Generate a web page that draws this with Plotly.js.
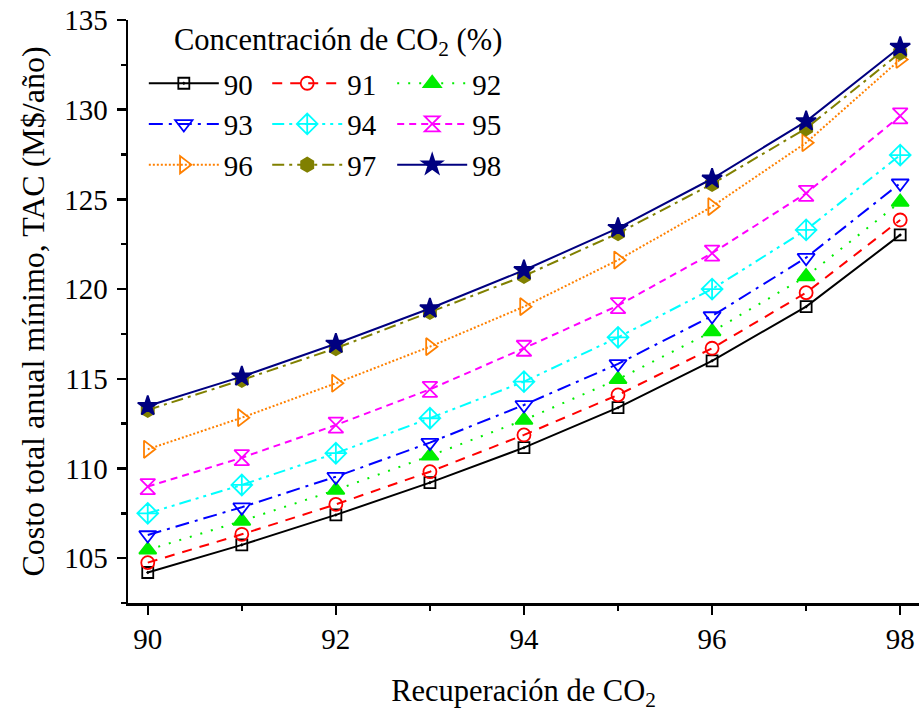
<!DOCTYPE html>
<html>
<head>
<meta charset="utf-8">
<script src="https://cdn.plot.ly/plotly-3.0.1.min.js"></script>
<style>
  html, body { margin: 0; padding: 0; background: #fff; }
  #chart { width: 919px; height: 712px; }
</style>
</head>
<body>
<div id="chart"></div>
<script>
// Recuperación de CO2 (%)
const recuperacion = [90, 91, 92, 93, 94, 95, 96, 97, 98];

// Costo total anual mínimo (M$/año) para cada concentración de CO2
const conc90 = [104.20, 105.74, 107.41, 109.21, 111.16, 113.39, 116.00, 119.02, 123.02];
const conc91 = [104.75, 106.33, 108.00, 109.82, 111.87, 114.10, 116.70, 119.80, 123.85];
const conc92 = [105.46, 107.07, 108.80, 110.70, 112.70, 114.97, 117.63, 120.70, 124.85];
const conc93 = [106.29, 107.84, 109.54, 111.44, 113.54, 115.83, 118.50, 121.75, 125.90];
const conc94 = [107.50, 109.08, 110.85, 112.80, 114.84, 117.31, 120.00, 123.30, 127.47];
const conc95 = [108.99, 110.60, 112.42, 114.41, 116.70, 119.08, 122.00, 125.34, 129.65];
const conc96 = [111.07, 112.83, 114.75, 116.79, 119.02, 121.62, 124.60, 128.16, 132.80];
const conc97 = [113.26, 114.93, 116.70, 118.72, 120.73, 123.11, 125.86, 128.96, 133.18];
const conc98 = [113.48, 115.12, 116.95, 118.92, 121.05, 123.40, 126.15, 129.35, 133.50];

const serieNames = ['90', '91', '92', '93', '94', '95', '96', '97', '98'];
const serieValues = [conc90, conc91, conc92, conc93, conc94, conc95, conc96, conc97, conc98];

const FONT = 'Liberation Serif, Times New Roman, serif';

// Appearance of each series: colour, dash pattern, marker symbol, legend column
const styles = [
  { color: '#000000', dash: 'solid', symbol: 'square-open-dot', size: 11, legend: 'legend' },
  { color: '#ff0000', dash: '10px,8px', symbol: 'circle-open', size: 13, legend: 'legend2' },
  { color: '#00ee00', dash: '2px,9px', symbol: 'triangle-up', size: 15, legend: 'legend3' },
  { color: '#0000ff', dash: '14px,6px,3px,6px', symbol: 'triangle-down-open', size: 15, legend: 'legend' },
  { color: '#00ffff', dash: '12px,5px,3px,5px,3px,5px', symbol: 'diamond-cross-open', size: 16, legend: 'legend2' },
  { color: '#ff00ff', dash: '7px,5px', symbol: 'hourglass-open', size: 15, legend: 'legend3' },
  { color: '#ff8000', dash: '2px,2px', symbol: 'triangle-right-open', size: 15, legend: 'legend' },
  { color: '#808000', dash: '12px,5px,3px,5px', symbol: 'hexagon', size: 14, legend: 'legend2' },
  { color: '#000080', dash: 'solid', symbol: 'star', size: 15, legend: 'legend3' }
];

const traces = serieValues.map((vals, i) => ({
  type: 'scatter',
  mode: 'lines+markers',
  x: recuperacion,
  y: vals,
  name: serieNames[i],
  legend: styles[i].legend,
  cliponaxis: false,
  line: { color: styles[i].color, width: 2, dash: styles[i].dash },
  marker: {
    symbol: styles[i].symbol,
    size: styles[i].size,
    color: styles[i].color,
    line: { color: styles[i].color, width: 1.8 }
  }
}));

const legendBase = {
  orientation: 'v',
  bgcolor: 'rgba(0,0,0,0)',
  borderwidth: 0,
  font: { family: FONT, size: 29, color: '#000' },
  itemwidth: 70,
  xanchor: 'left',
  yanchor: 'top',
  y: 0.935,
  tracegroupgap: 0
};

const layout = {
  width: 919,
  height: 712,
  margin: { l: 128, r: 0, t: 20, b: 109 },
  paper_bgcolor: '#ffffff',
  plot_bgcolor: '#ffffff',
  font: { family: FONT, size: 28, color: '#000' },
  showlegend: true,
  legend: Object.assign({}, legendBase, { x: 0.020 }),
  legend2: Object.assign({}, legendBase, { x: 0.176 }),
  legend3: Object.assign({}, legendBase, { x: 0.334 }),
  xaxis: {
    range: [89.79, 98.2],
    tickvals: [90, 92, 94, 96, 98],
    ticks: 'outside',
    ticklen: 9,
    tickwidth: 2.5,
    tickcolor: '#000',
    showline: true,
    linecolor: '#000',
    linewidth: 2.5,
    showgrid: false,
    zeroline: false,
    minor: { dtick: 1, tick0: 90, ticks: 'outside', ticklen: 5, tickwidth: 2.5, tickcolor: '#000', showgrid: false },
    tickfont: { family: FONT, size: 29, color: '#000' },
    title: { text: 'Recuperación de CO<sub>2</sub>', font: { family: FONT, size: 30.5, color: '#000' }, standoff: 26 }
  },
  yaxis: {
    range: [102.5, 135],
    tickvals: [105, 110, 115, 120, 125, 130, 135],
    ticks: 'outside',
    ticklen: 9,
    tickwidth: 2.5,
    tickcolor: '#000',
    showline: true,
    linecolor: '#000',
    linewidth: 2.5,
    showgrid: false,
    zeroline: false,
    minor: { dtick: 2.5, tick0: 102.5, ticks: 'outside', ticklen: 5, tickwidth: 2.5, tickcolor: '#000', showgrid: false },
    tickfont: { family: FONT, size: 29, color: '#000' },
    ticklabelstandoff: 3,
    title: { text: 'Costo total anual mínimo, TAC (M$/año)', font: { family: FONT, size: 32, color: '#000' }, standoff: 10 }
  },
  annotations: [{
    xref: 'paper', yref: 'paper',
    x: 0.055, y: 0.962,
    xanchor: 'left', yanchor: 'middle',
    showarrow: false,
    text: 'Concentración de CO<sub>2</sub> (%)',
    font: { family: FONT, size: 30.5, color: '#000' }
  }]
};

Plotly.newPlot('chart', traces, layout, { displayModeBar: false, staticPlot: true });
</script>
</body>
</html>
